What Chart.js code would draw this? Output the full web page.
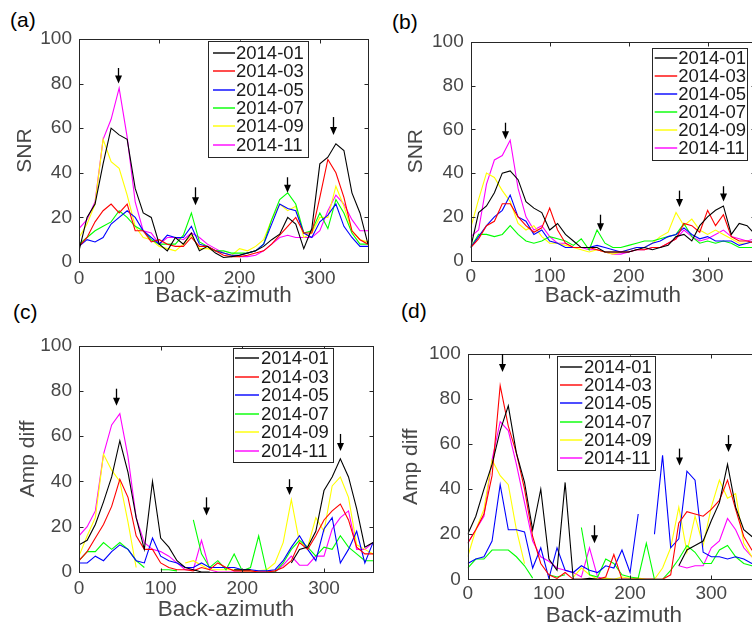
<!DOCTYPE html>
<html>
<head>
<meta charset="utf-8">
<script src="https://cdn.jsdelivr.net/npm/chart.js@4.4.1/dist/chart.umd.min.js"></script>
<style>
  html, body { margin: 0; padding: 0; overflow: hidden; background: #fff; width: 752px; height: 629px; }
  canvas { position: absolute; }
  .tag { position: absolute; font-family: "Liberation Sans", Arial, sans-serif; font-size: 21px; line-height: 1; color: #000; }
</style>
</head>
<body>
<div class="tag" style="left:10px;top:9px">(a)</div>
<div class="tag" style="left:392px;top:11px">(b)</div>
<div class="tag" style="left:13px;top:301px">(c)</div>
<div class="tag" style="left:401px;top:300px">(d)</div>
<canvas id="panelA" width="380" height="314" style="left:0;top:0"></canvas>
<canvas id="panelB" width="390" height="314" style="left:380px;top:0"></canvas>
<canvas id="panelC" width="380" height="315" style="left:0;top:314px"></canvas>
<canvas id="panelD" width="390" height="315" style="left:380px;top:314px"></canvas>
<script>
// back-azimuth bins (deg) and the six months
const azimuth = [0,10,20,30,40,50,60,70,80,90,100,110,120,130,140,150,160,170,180,190,200,210,220,230,240,250,260,270,280,290,300,310,320,330,340,350,360];
const months = ["2014-01", "2014-03", "2014-05", "2014-07", "2014-09", "2014-11"];
const xTicks = [0, 100, 200, 300];
const yTicks = [0, 20, 40, 60, 80, 100];

// (a) SNR
const snrA01 = [5,20,26,44,60,57,55,33,22,20,8,5,11,8,13,5,7,4,2,2.4,3,4,5,7,10,12.5,20,17,6,15,44,47,53,50,31,22,8];
const snrA03 = [7,11,18,23,26,22,26,14,14,9,10,8,7,7,11,7,7,5,3,2.4,2.4,3,4,5,8,12,16,20,13,13,29,46,40,29,14,10,8];
const snrA05 = [7,10,9,11,17,20,23,20,14,11,8,12,11,11,16,8,7,5,4,3,3,4,5,8,17,26,24,23,13,11,18,21,26,16,11,7,7];
const snrA07 = [8,11,14,16,18,23,20,16,14,10,8,8,8,12,22,9,7,5,5,4,4,4,5,8,19,28,31,26,13,14,22,15,28,22,13,8,8];
const snrA09 = [11,17,26,55,45,42,30,16,11,10,7,6,5,8,12,6,6,5,4,3,6,5,7,10,19,26,23,25,11,13,20,20,34,25,14,10,9];
const snrA11 = [15,19,27,55,64,78,56,27,14,13,8,11,11,10,13,11,8,6,4,3,2.4,2.4,3,5,8,11,12,11,11,11,14,23,30,26,19,14,14];

// (b) SNR
const snrB01 = [6,22,25,31,40,41,37,27,24,22,14,17,12,9,6,6,6,4,4,4,4,5,6,5,6,7,11,12,9,16,20,23,25,12,17,16,12];
const snrB03 = [6,10,16,18,26,26,20,16,13,15,24,14,8,6,6,6,5,4,4,4,4,5,5,6,6,8,10,17,16,13,23,16,21,11,9,9,8];
const snrB05 = [6,11,16,20,23,30,20,18,12,14,9,8,6,6,6,6,7,6,5,4,5,6,6,8,9,11,12,15,12,10,11,9,9,9,7,8,9];
const snrB07 = [6,12,12,11,12,16,12,9,8,9,11,10,9,7,10,5,14,8,6,6,7,8,9,9,10,11,12,17,11,8,9,8,9,8,6,6,6];
const snrB09 = [15,28,40,38,32,27,17,14,16,11,8,8,7,6,5,4,5,4,3,4,5,6,6,8,11,13,22,16,19,14,12,14,12,10,8,8,9];
const snrB11 = [11,14,35,46,48,55,33,20,14,16,11,8,8,6,6,5,5,4,3,3,4,5,5,6,6,8,10,14,11,9,10,12,14,11,10,9,10];

// (c) Amp diff
const ampC01 = [12,14,21,31,42,58,44,24,10,40,15,11,5,2,1,0,0,null,null,1,1,1,null,null,null,null,4,10,11,18,36,42,50,42,28,11,13];
const ampC03 = [5,9,15,21,29,41,33,16,10,10,4,2,1,1,0.5,2,1,4,2,0.5,0.5,0.5,0,0,0.5,2,5,13,10,16,23,27,30,23,11,8,8];
const ampC05 = [4,4,7,5,9,12,10,5,4,15,7,5,4,2,2,4,2,2,2,2,1,1,0.5,0.5,1,5,11,16,10,5,19,24,4,10,18,4,13];
const ampC07 = [5,9,9,13,10,13,10,5,2,null,1,1,0.5,null,23,8,2,5,1,8,0.5,2,16,0,0,4,10,14,11,7,11,10,16,11,8,5,5];
const ampC09 = [7,16,24,52,45,40,22,2,null,null,null,null,null,4,5,3,1,1,1,1,0.5,0.5,0.5,1,4,13,32,13,11,24,18,38,42,33,12,10,8];
const ampC11 = [16,20,27,52,65,70,51,24,13,10,9,7,4,1,1,14,1,0,0,0,0,0,0,0,0,3,7,3,3,7,7,19,24,27,10,10,13];

// (d) Amp diff
const ampD01 = [20,28,40,51,66,77,56,43,22,40,9,4,43,0,0,0.4,0,0,0,0,0,0,0,0,null,null,6,13,15,17,26,34,51,32,22,19,17];
const ampD03 = [16,22,29,46,86,68,56,40,19,7,2,0.4,3,0,0,0,0,1,11,0,0,0,0,0,0,2,25,30,29,28,31,35,44,31,19,13,12];
const ampD05 = [7,9,10,17,42,22,22,21,5,14,0.4,14,4,3,6,4,3,6,5,13,3,29,null,20,55,14,18,48,44,12,10,10,9,10,9,7,6];
const ampD07 = [5,9,9,13,13,13,10,6,0.5,null,2,1,2,null,23,2,1,9,7,2,1,0.5,16,0,0,4,9,15,12,7,7,13,15,10,7,6,5];
const ampD09 = [10,22,31,53,46,42,22,7,null,null,null,null,null,1,5,2,0,0.5,0,1,0.5,0.5,0,0,5,14,32,12,28,15,32,44,36,38,16,10,9];
const ampD11 = [16,22,28,53,70,66,51,34,17,10,8,5,4,3,1,14,1,0,0,0,0,0,0,0,0,null,6,5,6,6,14,17,27,22,14,10,9];

// arrows: [azimuth, tail value, tip value]
const arrowsA = [[48,87,80],[145,33.5,25.5],[259,38,31],[317,65,57]];
const arrowsB = [[44,63,55.5],[164,21,13.5],[264,32,24.5],[320,34,27]];
const arrowsC = [[45,81,73.5],[156,33,25],[257,41,34],[320,61,53.5]];
const arrowsD = [[42,100,92],[155,24,16],[260,58,50.5],[320,64,56.5]];

Chart.defaults.font.family = '"Liberation Sans", Arial, Helvetica, sans-serif';
const ink = '#262626';
const gray = '#474747';
const lineColors = ['#000000', '#ff0000', '#0000ff', '#00ff00', '#ffff00', '#ff00ff'];

// matlab-like box, inward ticks, boxed legend and arrows
const framePlugin = {
  id: 'frame',
  afterDatasetsDraw(chart, args, opts) {
    const { ctx, chartArea: a, scales: { x, y } } = chart;
    ctx.save();
    ctx.strokeStyle = ink;
    ctx.lineWidth = 1;
    const l = Math.round(a.left) + 0.5, t = Math.round(a.top) + 0.5;
    const r = Math.round(a.right) + 0.5, b = Math.round(a.bottom) + 0.5;
    ctx.strokeRect(l, t, r - l, b - t);
    ctx.beginPath();
    xTicks.forEach(v => {
      const px = Math.round(x.getPixelForValue(v)) + 0.5;
      ctx.moveTo(px, b); ctx.lineTo(px, b - 4);
      ctx.moveTo(px, t); ctx.lineTo(px, t + 4);
    });
    yTicks.forEach(v => {
      const py = Math.round(y.getPixelForValue(v)) + 0.5;
      ctx.moveTo(l, py); ctx.lineTo(l + 4, py);
      ctx.moveTo(r, py); ctx.lineTo(r - 4, py);
    });
    ctx.stroke();

    // legend
    const g = opts.legend;
    ctx.fillStyle = '#fff';
    ctx.fillRect(g.x, g.y, g.w, g.h);
    ctx.strokeStyle = ink;
    ctx.strokeRect(Math.round(g.x) + 0.5, Math.round(g.y) + 0.5, Math.round(g.w), Math.round(g.h));
    ctx.font = '18.5px "Liberation Sans", Arial, sans-serif';
    ctx.textBaseline = 'middle';
    ctx.textAlign = 'left';
    chart.data.datasets.forEach((ds, i) => {
      const cy = Math.round(g.y + g.first + i * g.row);
      ctx.strokeStyle = ds.borderColor;
      ctx.lineWidth = 1.4;
      ctx.beginPath();
      ctx.moveTo(g.x + g.l0, cy); ctx.lineTo(g.x + g.l1 - 1, cy);
      ctx.stroke();
      ctx.fillStyle = '#1a1a1a';
      ctx.fillText(ds.label, g.x + g.tx, cy + 1);
    });

    // arrows
    ctx.strokeStyle = '#000';
    ctx.fillStyle = '#000';
    opts.arrows.forEach(([ax, y0, y1]) => {
      const px = Math.round(x.getPixelForValue(ax)) + 0.5;
      const p0 = y.getPixelForValue(y0), p1 = y.getPixelForValue(y1);
      ctx.lineWidth = 1.3;
      ctx.beginPath();
      ctx.moveTo(px, p0); ctx.lineTo(px, p1 - 6);
      ctx.stroke();
      ctx.beginPath();
      ctx.moveTo(px - 3.5, p1 - 8); ctx.lineTo(px + 3.5, p1 - 8); ctx.lineTo(px, p1);
      ctx.closePath();
      ctx.fill();
    });
    ctx.restore();
  }
};

function makePanel(id, seriesList, yTitle, arrows, lay) {
  new Chart(document.getElementById(id), {
    type: 'line',
    data: {
      datasets: seriesList.map((vals, i) => ({
        label: months[i],
        data: azimuth.map((az, k) => ({ x: az, y: vals[k] })),
        borderColor: lineColors[i],
        borderWidth: 1.1,
        pointRadius: 0,
        tension: 0,
        spanGaps: false,
        fill: false
      }))
    },
    options: {
      responsive: false,
      animation: false,
      devicePixelRatio: 1,
      layout: { padding: { top: lay.top, right: lay.right, left: 0, bottom: 0 } },
      plugins: {
        legend: { display: false },
        tooltip: { enabled: false },
        frame: { arrows: arrows, legend: lay.legend }
      },
      scales: {
        x: {
          type: 'linear', min: 0, max: 360,
          grid: { display: false, drawTicks: false },
          border: { display: false },
          afterBuildTicks: s => { s.ticks = xTicks.map(v => ({ value: v })); },
          afterFit: s => { s.height = lay.xh; },
          ticks: { color: gray, font: { size: 19 }, padding: lay.xpad, maxRotation: 0, autoSkip: false },
          title: { display: true, text: 'Back-azimuth', color: gray, font: { size: 22.5 }, padding: { top: 0, bottom: lay.xtb } }
        },
        y: {
          min: 0, max: 100,
          grid: { display: false, drawTicks: false },
          border: { display: false },
          afterBuildTicks: s => { s.ticks = yTicks.map(v => ({ value: v })); },
          afterFit: s => { s.width = lay.yw; },
          ticks: { color: gray, font: { size: 19 }, padding: 7 },
          title: { display: true, text: yTitle, color: gray, font: { size: 21 }, padding: { top: lay.ytp, bottom: 0 } }
        }
      }
    },
    plugins: [framePlugin]
  });
}

makePanel('panelA', [snrA01, snrA03, snrA05, snrA07, snrA09, snrA11], 'SNR', arrowsA, {
  top: 39, right: 12, yw: 79, xh: 52, xpad: 5.6, xtb: 4.5, ytp: 12.4,
  legend: { x: 208, y: 40.7, w: 100, h: 116, first: 12, row: 18.4, l0: 5, l1: 28, tx: 28 }
});
makePanel('panelB', [snrB01, snrB03, snrB05, snrB07, snrB09, snrB11], 'SNR', arrowsB, {
  top: 41.7, right: 15, yw: 90.7, xh: 53.3, xpad: 4.3, xtb: 4.7, ytp: 23.9,
  legend: { x: 271.7, y: 48, w: 95.3, h: 112, first: 10.3, row: 18, l0: 3, l1: 26.5, tx: 26.5 }
});
makePanel('panelC', [ampC01, ampC03, ampC05, ampC07, ampC09, ampC11], 'Amp diff', arrowsC, {
  top: 31.7, right: 7, yw: 79, xh: 57, xpad: 5.6, xtb: 5.5, ytp: 15.4,
  legend: { x: 233, y: 34, w: 100, h: 113.7, first: 10.3, row: 18.5, l0: 2, l1: 27, tx: 28 }
});
makePanel('panelD', [ampD01, ampD03, ampD05, ampD07, ampD09, ampD11], 'Amp diff', arrowsD, {
  top: 40, right: 10, yw: 87.7, xh: 49.7, xpad: 3.3, xtb: 0, ytp: 18.4,
  legend: { x: 176.7, y: 41.7, w: 98.3, h: 114.3, first: 11, row: 18.3, l0: 3.3, l1: 26.6, tx: 27.3 }
});
</script>
</body>
</html>
